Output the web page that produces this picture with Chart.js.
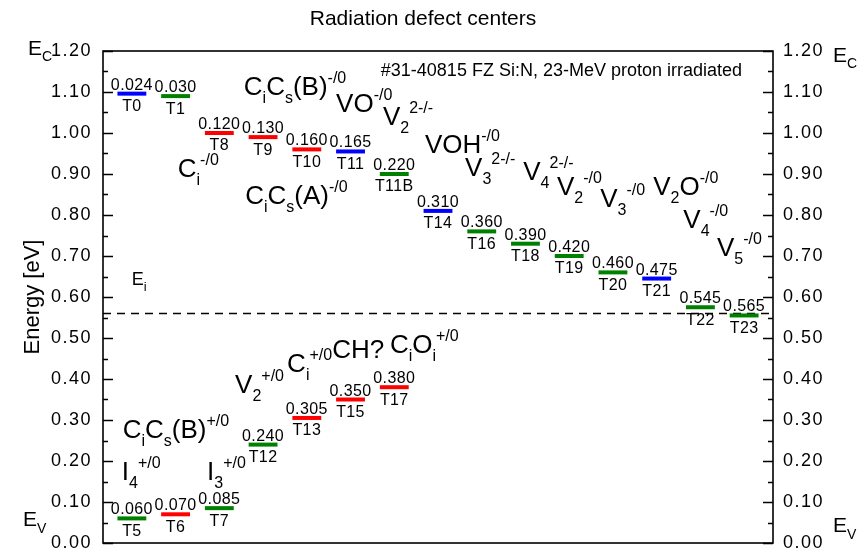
<!DOCTYPE html>
<html><head><meta charset="utf-8">
<script src="https://cdn.jsdelivr.net/npm/chart.js@4.4.1/dist/chart.umd.min.js"></script>
<style>html,body{margin:0;padding:0;background:#fff}#wrap{width:867px;height:554px}</style>
</head><body><div id="wrap"><canvas id="c" width="867" height="554"></canvas></div>
<script>
// ---- data ----
const EC = 1.12;          // conduction band edge (eV)
const EI = 0.56;          // intrinsic level (eV)
const upperNames = ['T0','T1','T8','T9','T10','T11','T11B','T14','T16','T18','T19','T20','T21','T22','T23'];
const upperEa    = [0.024,0.030,0.120,0.130,0.160,0.165,0.220,0.310,0.360,0.390,0.420,0.460,0.475,0.545,0.565];
const upperColor = ['b','g','r','r','r','b','g','b','g','g','g','g','b','g','g'];
const lowerNames = ['T5','T6','T7','T12','T13','T15','T17'];
const lowerEa    = [0.060,0.070,0.085,0.240,0.305,0.350,0.380];
const lowerColor = ['g','r','g','g','r','r','r'];
const yTickLabels = ['0.00','0.10','0.20','0.30','0.40','0.50','0.60','0.70','0.80','0.90','1.00','1.10','1.20'];
// defect assignments: text, slot position, energy position
const defectText = ['C_{i}C_{s}(B)^{-/0}','VO^{-/0}','V_{2}^{2-/-}','VOH^{-/0}','V_{3}^{2-/-}','V_{4}^{2-/-}','V_{2}^{-/0}','V_{3}^{-/0}','V_{2}O^{-/0}','V_{4}^{-/0}','V_{5}^{-/0}','C_{i}^{-/0}','C_{i}C_{s}(A)^{-/0}',
                    'C_{i}O_{i}^{+/0}','CH?','C_{i}^{+/0}','V_{2}^{+/0}','C_{i}C_{s}(B)^{+/0}','I_{4}^{+/0}','I_{3}^{+/0}'];
const defectX = [2.56,4.67,5.74,6.70,7.62,8.95,9.72,10.71,11.92,12.61,13.38,1.05,2.59, 5.90,4.58,3.55,2.36,-0.21,-0.23,1.72];
const defectY = [1.093,1.051,1.020,0.951,0.895,0.885,0.849,0.820,0.849,0.768,0.700,0.893,0.827, 0.463,0.451,0.417,0.366,0.256,0.154,0.154];
const sampleText = '#31-40815 FZ Si:N, 23-MeV proton irradiated';

// ---- styles ----
const FF = '"Liberation Sans", Arial, sans-serif';
const COL = {b:'#0000FF', g:'#008000', r:'#FF0000'};
const HALF = 0.33;
Chart.defaults.font.family = FF;
Chart.defaults.color = '#000';

const datasets = [];
const levels = [];
upperEa.forEach((ea, i) => levels.push({slot:i, e:EC-ea, val:ea, name:upperNames[i], c:COL[upperColor[i]]}));
lowerEa.forEach((ea, i) => levels.push({slot:i, e:ea, val:ea, name:lowerNames[i], c:COL[lowerColor[i]]}));
levels.forEach(l => datasets.push({data:[{x:l.slot-HALF,y:l.e},{x:l.slot+HALF,y:l.e}], borderColor:l.c, borderWidth:4, pointRadius:0, showLine:true, borderCapStyle:'butt'}));
datasets.push({data:[{x:-0.66,y:EI},{x:14.66,y:EI}], borderColor:'#000', borderWidth:1.5, borderDash:[8,6], pointRadius:0, showLine:true});

function drawRich(ctx, x, y, str, big, small, subDy, supDy) {
  const re = /([_^])\{([^}]*)\}|([^_^]+)/g; let m;
  while ((m = re.exec(str))) {
    let t, sz, dy = 0;
    if (m[3]) { t = m[3]; sz = big; }
    else { t = m[2]; sz = small; dy = m[1] === '_' ? subDy : supDy; }
    ctx.font = sz + 'px ' + FF;
    ctx.fillText(t, x, y + dy);
    x += ctx.measureText(t).width;
  }
}

const deco = {
  id:'deco',
  beforeDraw(chart){ chart.ctx.letterSpacing = '1.5px'; },
  beforeDatasetsDraw(chart){ chart.ctx.letterSpacing = '0px'; },
  afterDatasetsDraw(chart){
    const ctx = chart.ctx, xs = chart.scales.x, ys = chart.scales.y, a = chart.chartArea;
    ctx.save();
    ctx.letterSpacing = '0px';
    ctx.fillStyle = '#000'; ctx.strokeStyle = '#000';
    // frame
    ctx.lineWidth = 1.6;
    ctx.strokeRect(a.left, a.top, a.right - a.left, a.bottom - a.top);
    // inward ticks
    ctx.lineWidth = 1.5;
    for (let k = 0; k <= 24; k++) {
      const v = k * 0.05, py = Math.round(ys.getPixelForValue(v)) + 0.5;
      const len = k % 2 === 0 ? 10 : 5;
      ctx.beginPath();
      ctx.moveTo(a.left, py); ctx.lineTo(a.left + len, py);
      ctx.moveTo(a.right, py); ctx.lineTo(a.right - len, py);
      ctx.stroke();
    }
    // level labels
    ctx.letterSpacing = '0.4px';
    ctx.font = '16px ' + FF; ctx.textAlign = 'center';
    levels.forEach(l => {
      const px = xs.getPixelForValue(l.slot), py = ys.getPixelForValue(l.e);
      ctx.textBaseline = 'alphabetic';
      ctx.fillText(l.val.toFixed(3), px, py - 4);
      ctx.textBaseline = 'top';
      ctx.fillText(l.name, px, py + 5);
    });
    ctx.letterSpacing = '0px';
    // defect assignments
    ctx.textAlign = 'left'; ctx.textBaseline = 'alphabetic';
    defectText.forEach((t, i) => {
      drawRich(ctx, xs.getPixelForValue(defectX[i]), ys.getPixelForValue(defectY[i]), t, 26, 16, 8, -12);
    });
    // Ei
    drawRich(ctx, xs.getPixelForValue(0), ys.getPixelForValue(0.629), 'E_{i}', 18, 13, 6, -10);
    // sample text
    ctx.textAlign = 'right'; ctx.font = '18px ' + FF;
    ctx.fillText(sampleText, 742, 76);
    // band edges
    ctx.textAlign = 'left';
    const y12 = ys.getPixelForValue(1.2), y0 = ys.getPixelForValue(0);
    drawRich(ctx, 28, y12 + 4, 'E_{C}', 21, 14, 6, -10);
    drawRich(ctx, a.right + 60, y12 + 11, 'E_{C}', 21, 14, 6, -10);
    drawRich(ctx, 23, y0 - 17, 'E_{V}', 21, 14, 7, -10);
    drawRich(ctx, a.right + 60, y0 - 11, 'E_{V}', 21, 14, 7, -10);
    // title
    ctx.textAlign = 'center'; ctx.font = '21px ' + FF;
    ctx.fillText('Radiation defect centers', 423, 25);
    // y title
    ctx.save();
    ctx.translate(39, 297); ctx.rotate(-Math.PI / 2);
    ctx.font = '22px ' + FF; ctx.textAlign = 'center'; ctx.textBaseline = 'alphabetic';
    ctx.fillText('Energy [eV]', 0, 0);
    ctx.restore();
    ctx.restore();
  }
};

const yCommon = {
  type:'linear', min:0, max:1.2,
  grid:{display:false, drawTicks:false}, border:{display:false},
  ticks:{stepSize:0.1, font:{size:18}, color:'#000', autoSkip:false,
         callback:(v) => yTickLabels[Math.round(v * 10)] }
};
function fixLeft(s){ s.width = 103; s.paddingTop = 0; s.paddingBottom = 0; }
function fixRight(s){ s.width = 94; s.paddingTop = 0; s.paddingBottom = 0; }

new Chart(document.getElementById('c'), {
  type:'scatter',
  data:{datasets},
  plugins:[deco],
  options:{
    responsive:false, animation:false, devicePixelRatio:1,
    layout:{padding:{top:51, bottom:11, left:0, right:0}},
    plugins:{legend:{display:false}, tooltip:{enabled:false}, title:{display:false}},
    scales:{
      x:{type:'linear', min:-0.66, max:14.66, display:false},
      y:Object.assign({}, yCommon, {position:'left', ticks:Object.assign({}, yCommon.ticks, {padding:11}), afterFit:fixLeft}),
      y2:Object.assign({}, yCommon, {position:'right', ticks:Object.assign({}, yCommon.ticks, {padding:10}), afterFit:fixRight})
    }
  }
});
</script></body></html>
